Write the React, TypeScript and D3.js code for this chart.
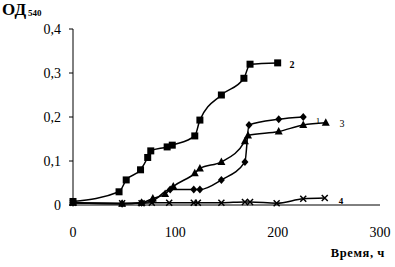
import React from "react";
import * as d3 from "d3";

const xTicks = [0, 100, 200, 300];
const yTicks = [0, 0.1, 0.2, 0.3, 0.4];
const yTickLabels = ["0", "0,1", "0,2", "0,3", "0,4"];

const s2Time = [0, 45, 52, 66, 73, 76, 92, 97, 119, 124, 145, 167, 173, 200];
const s2Val = [0.008, 0.03, 0.057, 0.08, 0.108, 0.123, 0.132, 0.136, 0.157, 0.193, 0.25, 0.288, 0.32, 0.323];

const s3Time = [0, 48, 67, 78, 90, 98, 119, 124, 145, 168, 171, 201, 225, 247];
const s3Val = [0.005, 0.003, 0.005, 0.015, 0.025, 0.042, 0.072, 0.083, 0.098, 0.145, 0.158, 0.167, 0.182, 0.187];

const s1Time = [0, 48, 67, 78, 95, 118, 124, 145, 168, 172, 201, 225];
const s1Val = [0.005, 0.003, 0.005, 0.01, 0.035, 0.035, 0.035, 0.057, 0.098, 0.182, 0.195, 0.2];

const s4Time = [0, 48, 67, 77, 94, 118, 122, 145, 168, 173, 199, 225, 246];
const s4Val = [0.005, 0.004, 0.004, 0.005, 0.005, 0.005, 0.005, 0.005, 0.007, 0.007, 0.004, 0.014, 0.016];

const seriesLabels = ["1", "2", "3", "4"];

export default function App() {
  const x = d3.scaleLinear().domain([0, 300]).range([73, 380]);
  const y = d3.scaleLinear().domain([0, 0.4]).range([205, 29]);
  const line = d3
    .line<[number, number]>()
    .x((d) => x(d[0]))
    .y((d) => y(d[1]))
    .curve(d3.curveMonotoneX);

  const zip = (t: number[], v: number[]) => t.map((tt, i) => [tt, v[i]] as [number, number]);
  const d1 = zip(s1Time, s1Val);
  const d2 = zip(s2Time, s2Val);
  const d3s = zip(s3Time, s3Val);
  const d4 = zip(s4Time, s4Val);

  const serif = "'Liberation Serif', 'DejaVu Serif', serif";

  const square = (p: [number, number], i: number) => (
    <rect key={i} x={x(p[0]) - 3.5} y={y(p[1]) - 3.5} width={7} height={7} fill="#000" />
  );
  const diamond = (p: [number, number], i: number) => {
    const cx = x(p[0]);
    const cy = y(p[1]);
    return <path key={i} d={`M${cx},${cy - 4}L${cx + 3.5},${cy}L${cx},${cy + 4}L${cx - 3.5},${cy}Z`} fill="#000" />;
  };
  const triangle = (p: [number, number], i: number) => {
    const cx = x(p[0]);
    const cy = y(p[1]);
    return <path key={i} d={`M${cx},${cy - 4.5}L${cx + 4},${cy + 3}L${cx - 4},${cy + 3}Z`} fill="#000" />;
  };
  const cross = (p: [number, number], i: number) => {
    const cx = x(p[0]);
    const cy = y(p[1]);
    return (
      <path
        key={i}
        d={`M${cx - 3},${cy - 3}L${cx + 3},${cy + 3}M${cx + 3},${cy - 3}L${cx - 3},${cy + 3}`}
        stroke="#000"
        strokeWidth={1.5}
      />
    );
  };

  return (
    <svg
      width={395}
      height={267}
      style={{ position: "absolute", left: 0, top: 0, background: "#fff" }}
    >
      <line x1={x(0)} x2={x(0)} y1={y(0)} y2={y(0.4)} stroke="#000" strokeWidth={1} />
      <line x1={x(0)} x2={x(300)} y1={y(0)} y2={y(0)} stroke="#000" strokeWidth={1} />
      {yTicks.map((t, i) => (
        <g key={i}>
          <line x1={x(0) - 4} x2={x(0)} y1={y(t)} y2={y(t)} stroke="#000" strokeWidth={1} />
          <text x={61} y={y(t) + 5} textAnchor="end" fontFamily={serif} fontSize={14}>
            {yTickLabels[i]}
          </text>
        </g>
      ))}
      {xTicks.map((t, i) => (
        <text key={i} x={x(t)} y={237} textAnchor="middle" fontFamily={serif} fontSize={14}>
          {t}
        </text>
      ))}
      <text x={2} y={15} fontFamily={serif} fontSize={17} fontWeight="bold">
        ОД
        <tspan fontSize={9} dy={1} dx={2}>540</tspan>
      </text>
      <text
        x={385}
        y={257}
        textAnchor="end"
        fontFamily={serif}
        fontSize={12.5}
        fontWeight="bold"
        letterSpacing={0.6}
      >
        Время, ч
      </text>

      <path d={line(d4) || ""} fill="none" stroke="#000" strokeWidth={1.5} />
      <path d={line(d1) || ""} fill="none" stroke="#000" strokeWidth={1.5} />
      <path d={line(d3s) || ""} fill="none" stroke="#000" strokeWidth={1.5} />
      <path d={line(d2) || ""} fill="none" stroke="#000" strokeWidth={1.5} />

      {d4.map(cross)}
      {d1.map(diamond)}
      {d3s.map(triangle)}
      {d2.map(square)}

      <text x={318} y={124} textAnchor="middle" fontFamily={serif} fontSize={9} fill="#000">{seriesLabels[0]}</text>
      <text x={292} y={68} textAnchor="middle" fontFamily={serif} fontSize={10} fontWeight="bold">{seriesLabels[1]}</text>
      <text x={342} y={127} textAnchor="middle" fontFamily={serif} fontSize={10}>{seriesLabels[2]}</text>
      <text x={341} y={204} textAnchor="middle" fontFamily={serif} fontSize={9} fontWeight="bold">{seriesLabels[3]}</text>
    </svg>
  );
}
